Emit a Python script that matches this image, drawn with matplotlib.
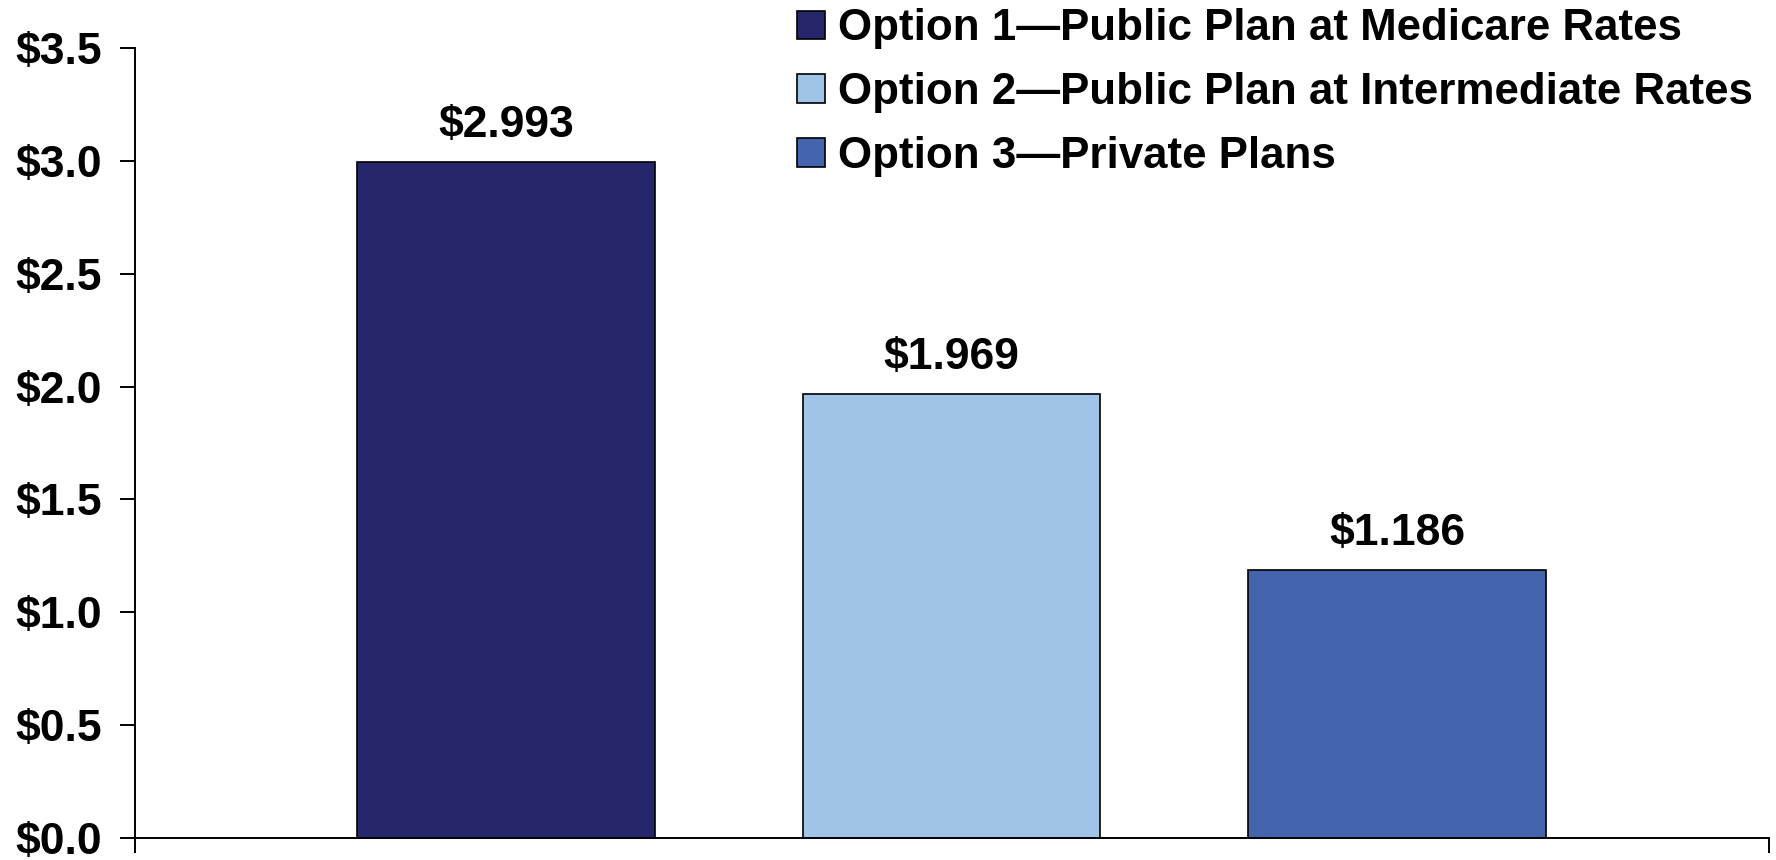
import matplotlib
matplotlib.use("Agg")
import matplotlib.pyplot as plt

# Cost by option (in dollars, as shown on the axis)
options = [
    "Option 1\u2014Public Plan at Medicare Rates",
    "Option 2\u2014Public Plan at Intermediate Rates",
    "Option 3\u2014Private Plans",
]
values = [2.993, 1.969, 1.186]
colors = ["#26266C", "#A0C3E8", "#4464AE"]
yticks = [0.0, 0.5, 1.0, 1.5, 2.0, 2.5, 3.0, 3.5]
ytick_labels = ["$0.0", "$0.5", "$1.0", "$1.5", "$2.0", "$2.5", "$3.0", "$3.5"]

plt.rcParams["font.family"] = ["Liberation Sans", "DejaVu Sans"]
plt.rcParams["font.weight"] = "bold"

FS = 32
LEG_FS = 31.6

fig = plt.figure(figsize=(17.76, 8.60), dpi=100)
ax = fig.add_axes([135 / 1776, 22 / 860, (1769 - 135) / 1776, (838 - 48) / 860])

positions = list(range(len(values)))
for pos, val, col, name in zip(positions, values, colors, options):
    ax.bar(pos, val, width=0.668, color=col, edgecolor="black",
           linewidth=1.2, label=name, zorder=2)
    ax.annotate(f"${val:.3f}", xy=(pos, val), xytext=(0, 18),
                textcoords="offset points", ha="center", va="baseline",
                fontsize=FS, fontweight="bold")

ax.set_xlim(-0.833, 2.835)
ax.set_ylim(0, 3.5)
ax.set_yticks(yticks)
ax.set_yticklabels(ytick_labels)
ax.set_xticks([-0.833, 2.835])
ax.set_xticklabels([])

for side in ("top", "right"):
    ax.spines[side].set_visible(False)
for side in ("left", "bottom"):
    ax.spines[side].set_linewidth(1.4)
ax.spines["left"].set_zorder(3)

ax.tick_params(axis="y", direction="out", length=10.8, width=1.4,
               pad=13, labelsize=FS)
ax.tick_params(axis="x", direction="out", length=10.5, width=1.4)
for lab in ax.get_yticklabels():
    lab.set_fontweight("bold")

leg = ax.legend(loc="upper left", bbox_to_anchor=(795 / 1776, 0.993),
                bbox_transform=fig.transFigure, frameon=False,
                fontsize=LEG_FS, handlelength=0.64, handleheight=0.62,
                handletextpad=0.29, labelspacing=0.52, borderpad=0.05,
                borderaxespad=0)
for t in leg.get_texts():
    t.set_fontweight("bold")

fig.savefig("out.png", dpi=100)
